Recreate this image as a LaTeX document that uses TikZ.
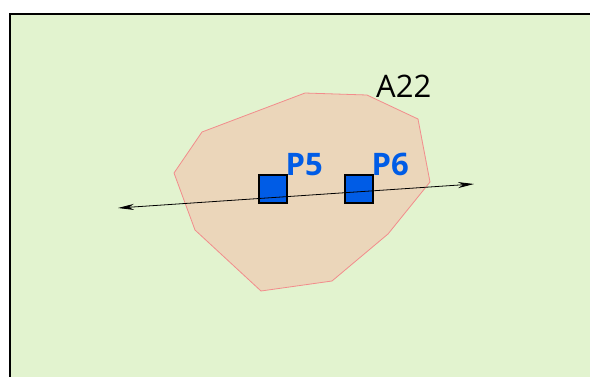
\documentclass[tikz,border=0pt]{standalone}
\usepackage{fontspec}
\setmainfont{Open Sans}
\usetikzlibrary{arrows.meta}
\definecolor{landgreen}{HTML}{E2F3CF}
\definecolor{areatan}{HTML}{EBD6BA}
\definecolor{areaedge}{HTML}{F28C8C}
\definecolor{pointblue}{HTML}{005CE6}
\tikzset{
  pointbox/.style={draw=black,line width=2pt,fill=pointblue,minimum size=28pt,inner sep=0pt},
  pointlabel/.style={anchor=base west,inner sep=0pt,text=pointblue,font=\fontsize{31}{31}\selectfont\bfseries},
  arealabel/.style={anchor=base west,inner sep=0pt,font=\fontsize{31}{31}\selectfont}
}
\begin{document}
\begin{tikzpicture}[x=1pt,y=-1pt]
  \useasboundingbox (0,0) rectangle (590,376);
  \clip (0,0) rectangle (590,376);
  \draw[line width=2pt,fill=landgreen] (10,14) rectangle (700,500);

  % area A22
  \filldraw[fill=areatan,draw=areaedge,line width=0.8pt]
    (305,93) -- (367,95) -- (418,119) -- (430,182) -- (388,234) -- (332,281)
    -- (261,291) -- (195,230) -- (174,173) -- (202,132) -- cycle;
  \node[arealabel] (a22) at (376,97.5) {A22};

  % points
  \node[pointbox] (p5) at (272.5,189) {};
  \node[pointbox] (p6) at (358.5,189) {};
  \node[pointlabel] (lp5) at (285.5,175) {P5};
  \node[pointlabel] (lp6) at (371.5,175) {P6};

  % line through the points
  \coordinate (west) at (118,208);
  \coordinate (east) at (474,184);
  \draw[line width=0.8pt,{Stealth[length=16pt,width=6pt,inset=5pt]}-{Stealth[length=16pt,width=6pt,inset=5pt]}] (west) -- (east);

\end{tikzpicture}
\end{document}
